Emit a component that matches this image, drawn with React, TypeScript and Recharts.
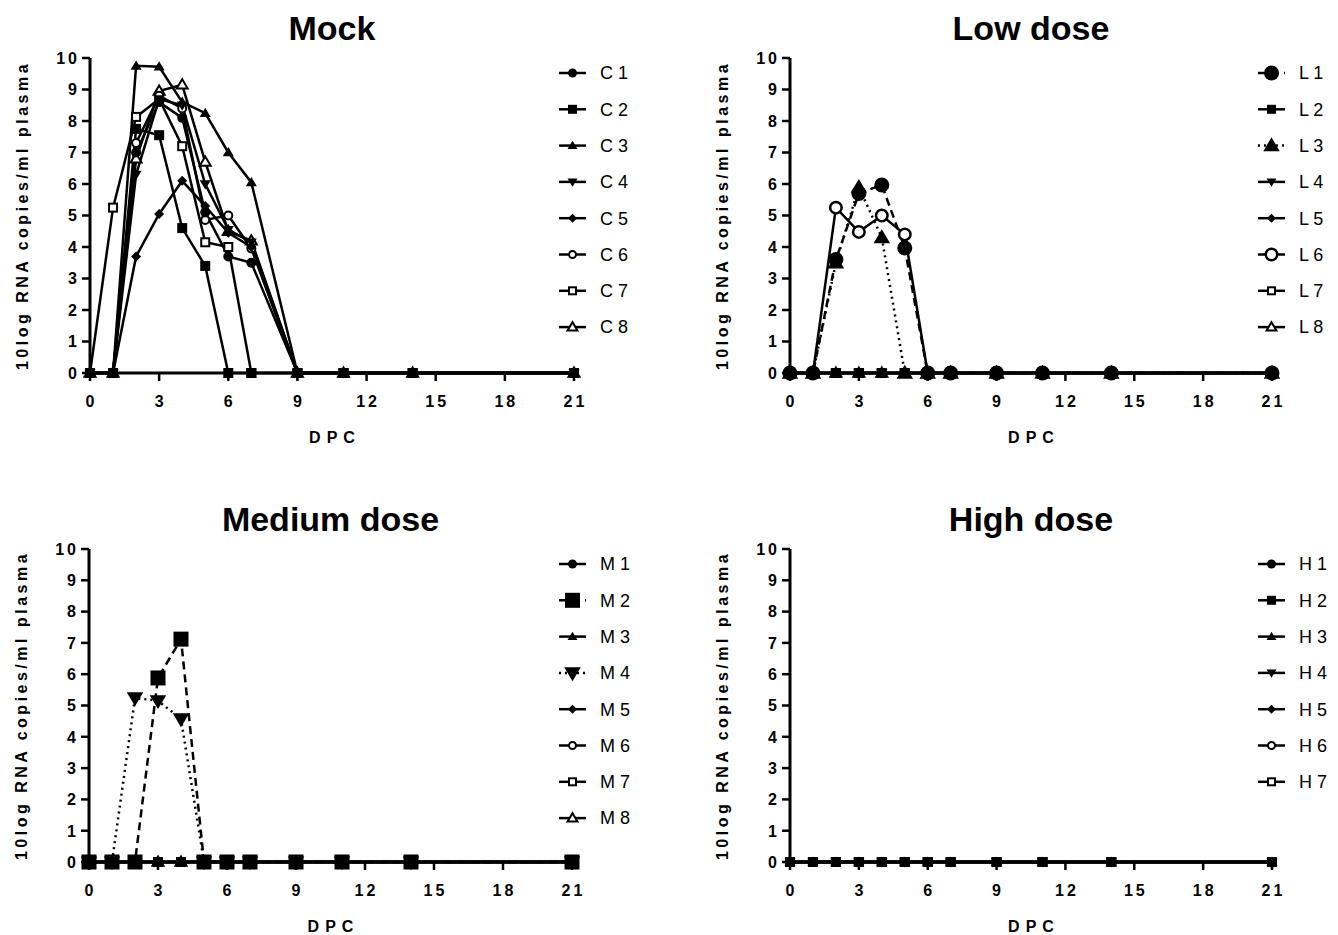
import React from 'react';
import { LineChart, Line, XAxis, YAxis, Label } from 'recharts';

const FONT = '"Liberation Sans", Arial, Helvetica, sans-serif';

const DAYS = [0, 1, 2, 3, 4, 5, 6, 7, 9, 11, 14, 21];
const X_TICKS = [0, 3, 6, 9, 12, 15, 18, 21];
const Y_TICKS = [0, 1, 2, 3, 4, 5, 6, 7, 8, 9, 10];

// Mock
const MOCK_NAMES = ['C 1', 'C 2', 'C 3', 'C 4', 'C 5', 'C 6', 'C 7', 'C 8'];
const C1 = [0, 0, 7.0, 8.6, 8.1, 5.1, 3.7, 3.5, 0, 0, 0, 0];
const C2 = [0, 0, 7.75, 7.55, 4.6, 3.4, 0, 0, 0, 0, 0, 0];
const C3 = [0, 0, 9.75, 9.72, 8.6, 8.25, 7.0, 6.05, 0, 0, 0, 0];
const C4 = [0, 0, 6.3, 8.7, 8.5, 6.0, 4.55, 4.15, 0, 0, 0, 0];
const C5 = [0, 0, 3.7, 5.05, 6.1, 5.3, 4.45, 4.0, 0, 0, 0, 0];
const C6 = [0, 0, 7.3, 8.8, 8.4, 4.86, 5.0, 3.95, 0, 0, 0, 0];
const C7 = [0, 5.25, 8.13, 8.7, 7.2, 4.15, 4.0, 0, 0, 0, 0, 0];
const C8 = [0, 0, 6.8, 8.95, 9.15, 6.7, 4.5, 4.2, 0, 0, 0, 0];

// Low dose
const LOW_NAMES = ['L 1', 'L 2', 'L 3', 'L 4', 'L 5', 'L 6', 'L 7', 'L 8'];
const L1 = [0, 0, 3.6, 5.7, 5.97, 3.97, 0, 0, 0, 0, 0, 0];
const L2 = [0, 0, 0, 0, 0, 0, 0, 0, 0, 0, 0, 0];
const L3 = [0, 0, 3.5, 5.9, 4.3, 0, 0, 0, 0, 0, 0, 0];
const L4 = [0, 0, 0, 0, 0, 0, 0, 0, 0, 0, 0, 0];
const L5 = [0, 0, 0, 0, 0, 0, 0, 0, 0, 0, 0, 0];
const L6 = [0, 0, 5.25, 4.48, 5.0, 4.4, 0, 0, 0, 0, 0, 0];
const L7 = [0, 0, 0, 0, 0, 0, 0, 0, 0, 0, 0, 0];
const L8 = [0, 0, 0, 0, 0, 0, 0, 0, 0, 0, 0, 0];

// Medium dose
const MED_NAMES = ['M 1', 'M 2', 'M 3', 'M 4', 'M 5', 'M 6', 'M 7', 'M 8'];
const M1 = [0, 0, 0, 0, 0, 0, 0, 0, 0, 0, 0, 0];
const M2 = [0, 0, 0, 5.88, 7.12, 0, 0, 0, 0, 0, 0, 0];
const M3 = [0, 0, 0, 0, 0, 0, 0, 0, 0, 0, 0, 0];
const M4 = [0, 0, 5.24, 5.15, 4.57, 0, 0, 0, 0, 0, 0, 0];
const M5 = [0, 0, 0, 0, 0, 0, 0, 0, 0, 0, 0, 0];
const M6 = [0, 0, 0, 0, 0, 0, 0, 0, 0, 0, 0, 0];
const M7 = [0, 0, 0, 0, 0, 0, 0, 0, 0, 0, 0, 0];
const M8 = [0, 0, 0, 0, 0, 0, 0, 0, 0, 0, 0, 0];

// High dose
const HIGH_NAMES = ['H 1', 'H 2', 'H 3', 'H 4', 'H 5', 'H 6', 'H 7'];
const H1 = [0, 0, 0, 0, 0, 0, 0, 0, 0, 0, 0, 0];
const H2 = [0, 0, 0, 0, 0, 0, 0, 0, 0, 0, 0, 0];
const H3 = [0, 0, 0, 0, 0, 0, 0, 0, 0, 0, 0, 0];
const H4 = [0, 0, 0, 0, 0, 0, 0, 0, 0, 0, 0, 0];
const H5 = [0, 0, 0, 0, 0, 0, 0, 0, 0, 0, 0, 0];
const H6 = [0, 0, 0, 0, 0, 0, 0, 0, 0, 0, 0, 0];
const H7 = [0, 0, 0, 0, 0, 0, 0, 0, 0, 0, 0, 0];

type Shape = 'circle' | 'square' | 'triUp' | 'triDown' | 'diamond' | 'oCircle' | 'oSquare' | 'oTriUp';
const SHAPES: Shape[] = ['circle', 'square', 'triUp', 'triDown', 'diamond', 'oCircle', 'oSquare', 'oTriUp'];

type Style = { size: number; dash?: string };
const DEFAULT_STYLE: Style = { size: 5 };
const DASHED = '8 5';
const DOTTED = '2 4';

const LOW_STYLE: Record<number, Style> = {
  0: { size: 7.5, dash: DASHED },
  2: { size: 7.5, dash: DOTTED },
  5: { size: 7 },
};
const MED_STYLE: Record<number, Style> = {
  1: { size: 7.5, dash: DASHED },
  3: { size: 7.5, dash: DOTTED },
};

type Series = { name: string; shape: Shape; style: Style; data: { x: number; y: number }[] };

function buildSeries(names: string[], values: number[][], styles: Record<number, Style>): Series[] {
  return names.map((name, i) => ({
    name,
    shape: SHAPES[i],
    style: styles[i] || DEFAULT_STYLE,
    data: DAYS.map((d, j) => ({ x: d, y: values[i][j] })),
  }));
}

const MOCK = buildSeries(MOCK_NAMES, [C1, C2, C3, C4, C5, C6, C7, C8], {});
const LOW = buildSeries(LOW_NAMES, [L1, L2, L3, L4, L5, L6, L7, L8], LOW_STYLE);
const MED = buildSeries(MED_NAMES, [M1, M2, M3, M4, M5, M6, M7, M8], MED_STYLE);
const HIGH = buildSeries(HIGH_NAMES, [H1, H2, H3, H4, H5, H6, H7], {});

function Marker({ cx, cy, shape, size }: { cx: number; cy: number; shape: Shape; size: number }) {
  if (cx == null || cy == null || isNaN(cx) || isNaN(cy)) return null;
  const s = size;
  const big = s > 6;
  const sw = big ? 2.5 : 2;
  const hw = s * 1.1;
  const ap = s * 1.1;
  const bs = s * 0.75;
  switch (shape) {
    case 'circle':
      return <circle cx={cx} cy={cy} r={s} fill="#000" />;
    case 'square':
      return <rect x={cx - s} y={cy - s} width={2 * s} height={2 * s} fill="#000" />;
    case 'triUp':
      return <path d={`M${cx},${cy - ap}L${cx + hw},${cy + bs}L${cx - hw},${cy + bs}Z`} fill="#000" />;
    case 'triDown':
      return <path d={`M${cx},${cy + ap}L${cx + hw},${cy - bs}L${cx - hw},${cy - bs}Z`} fill="#000" />;
    case 'diamond':
      return <path d={`M${cx},${cy - s}L${cx + s},${cy}L${cx},${cy + s}L${cx - s},${cy}Z`} fill="#000" />;
    case 'oCircle':
      return <circle cx={cx} cy={cy} r={s - sw / 2} fill="#fff" stroke="#000" strokeWidth={sw} />;
    case 'oSquare':
      return <rect x={cx - s + 1} y={cy - s + 1} width={2 * s - 2} height={2 * s - 2} fill="#fff" stroke="#000" strokeWidth={sw} />;
    case 'oTriUp':
      return <path d={`M${cx},${cy - ap}L${cx + hw},${cy + bs}L${cx - hw},${cy + bs}Z`} fill="#fff" stroke="#000" strokeWidth={sw} strokeLinejoin="miter" />;
  }
  return null;
}

const XTick = (p: any) => (
  <text x={p.x + 1.5} y={p.y} dy={24} textAnchor="middle" fontFamily={FONT} fontSize={16} fontWeight="bold" letterSpacing={3} fill="#000">
    {p.payload.value}
  </text>
);

const YTick = (p: any) => (
  <text x={p.x} y={p.y} dy={5.8} textAnchor="end" fontFamily={FONT} fontSize={16} fontWeight="bold" letterSpacing={3} fill="#000">
    {p.payload.value}
  </text>
);

const YLabelContent = (props: any) => {
  const vb = props.viewBox || {};
  const cx = vb.x - 8;
  const cy = vb.y + vb.height / 2;
  return (
    <text x={cx} y={cy} dy={5.8} transform={`rotate(-90 ${cx} ${cy})`} textAnchor="middle" fontFamily={FONT} fontSize={16} fontWeight="bold" letterSpacing={3.5} fill="#000">
      10log RNA copies/ml plasma
    </text>
  );
};

const XLabelContent = (props: any) => {
  const vb = props.viewBox || {};
  const cx = vb.x + vb.width / 2 + 3;
  const cy = vb.y + 70;
  return (
    <text x={cx} y={cy} textAnchor="middle" fontFamily={FONT} fontSize={16} fontWeight="bold" letterSpacing={6} fill="#000">
      DPC
    </text>
  );
};

function LegendBox({ x, y, items }: { x: number; y: number; items: Series[] }) {
  const step = 36.3;
  return (
    <svg style={{ position: 'absolute', left: x, top: y - 15, overflow: 'visible' }} width={90} height={items.length * step + 30}>
      {items.map((it, i) => {
        const cy = 15 + i * step;
        return (
          <g key={it.name}>
            <line x1={0} x2={27} y1={cy} y2={cy} stroke="#000" strokeWidth={2.5} strokeDasharray={it.style.dash} />
            <Marker cx={13.5} cy={cy} shape={it.shape} size={it.style.size > 6 ? it.style.size : 4.5} />
            <text x={41} y={cy} dy={6.3} fontFamily={FONT} fontSize={18} fill="#000">
              {it.name}
            </text>
          </g>
        );
      })}
    </svg>
  );
}

const ML = 90;
const MT = 58;
const MR = 100;
const MB = 95;
const YW = 60;
const XH = 40;

function Panel({ ox, oy, pw, ph, title, series, legendX }: { ox: number; oy: number; pw: number; ph: number; title: string; series: Series[]; legendX: number }) {
  const drawOrder = series.slice().reverse();
  return (
    <>
      <div style={{ position: 'absolute', left: ox - ML, top: oy - MT }}>
        <LineChart width={pw + ML + MR} height={ph + MT + MB} margin={{ top: MT, right: MR, bottom: MB - XH, left: ML - YW }}>
          <XAxis
            type="number"
            dataKey="x"
            domain={[0, 21]}
            ticks={X_TICKS}
            interval={0}
            height={XH}
            tick={XTick}
            tickSize={8}
            axisLine={{ stroke: '#000', strokeWidth: 3 }}
            tickLine={{ stroke: '#000', strokeWidth: 2.5 }}
            label={<Label content={XLabelContent} />}
          />
          <YAxis
            type="number"
            domain={[0, 10]}
            ticks={Y_TICKS}
            interval={0}
            width={YW}
            tick={YTick}
            tickSize={8}
            axisLine={{ stroke: '#000', strokeWidth: 3 }}
            tickLine={{ stroke: '#000', strokeWidth: 2.5 }}
            label={<Label content={YLabelContent} />}
          />
          {drawOrder.map((s) => (
            <Line
              key={s.name}
              data={s.data}
              dataKey="y"
              type="linear"
              stroke="#000"
              strokeWidth={2.5}
              strokeDasharray={s.style.dash}
              isAnimationActive={false}
              activeDot={false}
              dot={(p: any) => (
                <g key={`${s.name}-${p.index}`}>
                  <Marker cx={p.cx} cy={p.cy} shape={s.shape} size={s.style.size} />
                </g>
              )}
            />
          ))}
        </LineChart>
      </div>
      <div
        style={{
          position: 'absolute',
          left: ox + pw / 2 - 200,
          width: 400,
          top: oy - 47,
          textAlign: 'center',
          fontFamily: FONT,
          fontWeight: 'bold',
          fontSize: 34,
          lineHeight: '34px',
          color: '#000',
        }}
      >
        {title}
      </div>
      <LegendBox x={legendX} y={oy + 15} items={series} />
    </>
  );
}

export default function App() {
  return (
    <div style={{ position: 'absolute', left: 0, top: 0, width: 1338, height: 935, background: '#fff' }}>
      <Panel ox={90} oy={58} pw={484} ph={315} title="Mock" series={MOCK} legendX={559} />
      <Panel ox={790} oy={58} pw={482} ph={315} title="Low dose" series={LOW} legendX={1258} />
      <Panel ox={89} oy={549} pw={483} ph={313} title="Medium dose" series={MED} legendX={559} />
      <Panel ox={790} oy={549} pw={482} ph={313} title="High dose" series={HIGH} legendX={1258} />
    </div>
  );
}
